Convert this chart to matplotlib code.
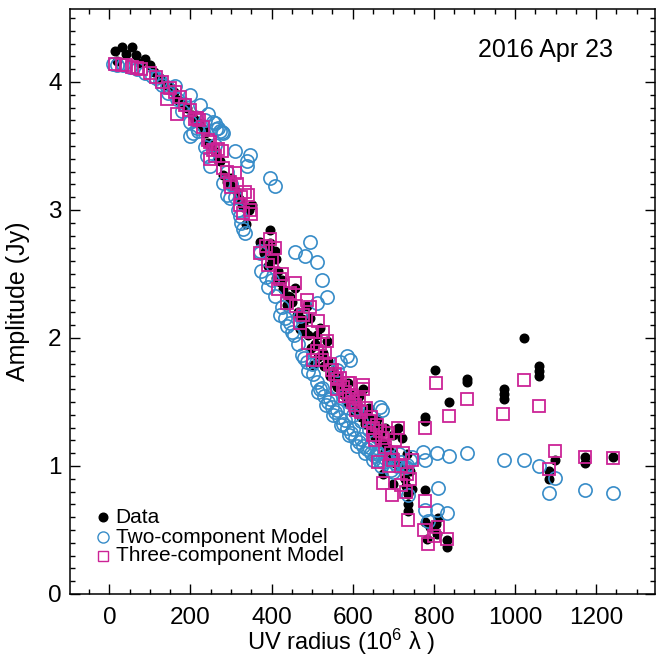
import matplotlib
matplotlib.use("Agg")
import matplotlib.pyplot as plt
from matplotlib.ticker import MultipleLocator

plt.rcParams['font.family'] = ['Liberation Sans', 'DejaVu Sans']
plt.rcParams['mathtext.fontset'] = 'custom'
plt.rcParams['mathtext.rm'] = 'Liberation Sans'
plt.rcParams['mathtext.it'] = 'Liberation Sans:italic'

# Data: UV radius (10^6 lambda) and amplitude (Jy)
data_uv = [14, 32, 55, 42, 65, 88, 100, 20, 75, 110,
           125, 140, 150, 160, 170, 180, 192, 203, 212, 222, 230, 235, 244, 252, 260,
           268, 272, 281, 290, 300, 314, 322, 330, 338, 345, 351, 371, 380, 396, 396,
           408, 410, 392, 412, 420, 428, 437, 446, 457, 462, 470, 478, 486, 494, 503,
           507, 512, 519, 527, 536, 540, 548, 552, 558, 564, 575, 589, 597, 609, 615,
           626, 634, 642, 650, 658, 667, 675, 688, 700, 712, 722, 733, 741, 675, 700,
           729, 737, 737, 778, 778, 811, 807, 782, 832, 832, 790, 805,
           300, 305, 318, 326, 385, 400, 415, 425, 440, 450, 465, 475, 483, 490, 498,
           515, 530, 545, 555, 570, 580, 585, 600, 605, 620, 630, 645, 655, 663, 680,
           692, 705, 715, 725, 730, 735, 745, 560, 590, 610, 640, 660, 680, 700,
           803, 882, 882, 836, 778, 778, 1021, 1060, 1060, 1060, 973, 973, 973,
           1098, 1083, 1083, 1173, 1173, 1241]
data_amp = [4.24, 4.27, 4.27, 4.22, 4.21, 4.18, 4.13, 4.16, 4.15, 4.08,
            4.03, 3.98, 3.96, 3.92, 3.86, 3.84, 3.80, 3.74, 3.70, 3.68, 3.63, 3.60, 3.52, 3.49, 3.45,
            3.39, 3.38, 3.27, 3.22, 3.19, 3.14, 3.08, 3.02, 2.89, 3.00, 3.04, 2.75, 2.66, 2.84, 2.74,
            2.68, 2.62, 2.56, 2.47, 2.44, 2.38, 2.26, 2.32, 2.39, 2.18, 2.07, 2.12, 2.25, 2.16, 1.79,
            1.95, 2.02, 2.08, 1.88, 1.98, 1.82, 1.74, 1.74, 1.64, 1.69, 1.58, 1.65, 1.52, 1.44, 1.55,
            1.60, 1.42, 1.37, 1.30, 1.33, 1.26, 1.18, 1.14, 1.10, 1.30, 1.22, 1.09, 0.96, 0.94, 0.86,
            0.90, 0.65, 0.70, 0.81, 0.56, 0.59, 0.47, 0.43, 0.42, 0.37, 0.52, 0.55,
            3.25, 3.17, 3.10, 3.05, 2.70, 2.62, 2.52, 2.45, 2.33, 2.28, 2.20, 2.15, 2.05, 2.02, 1.92,
            1.85, 1.78, 1.70, 1.68, 1.60, 1.55, 1.50, 1.47, 1.42, 1.38, 1.33, 1.27, 1.22, 1.20, 1.12,
            1.05, 1.02, 1.00, 0.98, 0.84, 0.78, 0.82, 1.62, 1.58, 1.52, 1.45, 1.37, 1.30, 1.24,
            1.75, 1.68, 1.66, 1.50, 1.38, 1.35, 2.00, 1.78, 1.74, 1.70, 1.60, 1.56, 1.52,
            1.05, 0.96, 0.90, 1.07, 1.02, 1.07]

two_uv = [10, 18, 34, 50, 67, 87, 104, 115, 124, 130, 141, 145, 161, 166, 178, 185, 198, 198,
          207, 219, 223, 235, 244, 256, 260, 262, 272, 281,
          309, 346, 339, 339, 396, 408, 494, 457, 482, 512, 524, 536, 512, 586, 569, 593, 560,
          215, 198, 235, 240, 248, 268, 277, 260, 281, 289, 297, 322, 330, 334, 371, 371, 375,
          392, 408, 420, 433, 437, 466, 474, 486, 503, 511, 470, 450, 520, 530, 540, 548, 556,
          565, 575, 585, 595, 605, 615, 625, 635, 645, 655, 665, 675, 700, 720, 733, 740, 745,
          710, 690, 737, 600, 620, 640, 590, 610, 560, 575, 667, 671, 692, 659,
          500, 515, 525, 535, 545, 552, 560, 570, 580, 590, 600, 610, 620, 630, 640, 650,
          660, 670, 680, 695, 705, 715, 725, 730, 480, 490, 455, 445, 425, 400, 385,
          290, 300, 310, 318, 325,
          774, 778, 807, 836, 882, 811, 778, 807, 832, 786,
          973, 1021, 1060, 1098, 1083, 1173, 1241]
two_amp = [4.14, 4.13, 4.13, 4.12, 4.10, 4.07, 4.05, 4.03, 4.01, 3.98, 3.96, 3.91, 3.97, 3.87, 3.77, 3.83, 3.90, 3.69,
           3.60, 3.62, 3.82, 3.70, 3.75, 3.69, 3.51, 3.63, 3.62, 3.60,
           3.46, 3.43, 3.38, 3.34, 3.25, 3.19, 2.75, 2.67, 2.64, 2.59, 2.45, 2.32, 2.27, 1.86, 1.81, 1.83, 1.75,
           3.64, 3.58, 3.49, 3.42, 3.34, 3.64, 3.61, 3.68, 3.21, 3.12, 3.09, 2.95, 2.85, 2.82, 2.66, 2.68, 2.52,
           2.40, 2.33, 2.18, 2.16, 2.09, 1.95, 1.87, 1.81, 1.72, 1.66, 2.17, 2.05, 1.60, 1.55, 1.50, 1.46, 1.42,
           1.38, 1.33, 1.30, 1.26, 1.22, 1.19, 1.16, 1.13, 1.10, 1.08, 1.05, 1.03, 0.95, 1.03, 1.01, 1.05, 1.07,
           1.00, 1.05, 0.77, 1.40, 1.35, 1.28, 1.50, 1.45, 1.62, 1.55, 1.46, 1.44, 1.07, 1.09,
           1.80, 1.58, 1.61, 1.48, 1.52, 1.40, 1.44, 1.32, 1.36, 1.24, 1.29, 1.16, 1.21, 1.10, 1.15, 1.05,
           1.11, 1.00, 1.06, 0.97, 1.02, 1.09, 1.00, 0.99, 1.84, 1.74, 2.02, 2.12, 2.24, 2.45, 2.48,
           3.30, 3.20, 3.10, 3.00, 2.90,
           1.11, 1.05, 1.10, 1.08, 1.10, 0.83, 0.66, 0.66, 0.63, 0.57,
           1.05, 1.05, 1.00, 0.91, 0.79, 0.81, 0.79]

three_uv = [14, 30, 55, 79, 100, 129, 141, 161, 166, 186, 211, 231, 244, 256, 277, 248, 40, 68, 115,
            150, 175, 200, 220,
            215, 248, 268, 281, 310, 297, 334, 342, 322, 346, 330, 350, 396, 408, 371, 392, 420, 457,
            416, 437, 486, 494, 470, 515, 527, 536, 490, 511, 503, 523, 548, 568, 589, 626, 560, 593,
            626, 609, 667, 712, 688, 651, 663, 675, 696, 720, 733, 737, 640, 600, 580, 620, 655, 700,
            720, 740,
            385, 400, 425, 445, 460, 478, 500, 520, 532, 545, 555, 575, 582, 598, 605, 615, 632, 645,
            660, 672, 680, 695, 705, 725, 730, 745, 560, 590, 650, 690, 300, 315, 260, 290, 325,
            806, 882, 836, 778, 778, 776, 786, 811, 832, 800,
            1021, 1060, 971, 1098, 1083, 1173, 1241]
three_amp = [4.14, 4.13, 4.12, 4.10, 4.07, 4.00, 3.87, 3.92, 3.75, 3.82, 3.71, 3.65, 3.55, 3.47, 3.46, 3.40, 4.13, 4.11, 4.04,
             3.95, 3.88, 3.78, 3.70,
             3.72, 3.53, 3.48, 3.33, 3.29, 3.22, 3.14, 3.12, 3.04, 3.00, 2.98, 2.97, 2.77, 2.70, 2.66, 2.57, 2.46, 2.43,
             2.38, 2.27, 2.30, 2.24, 2.12, 2.13, 2.05, 1.98, 1.96, 1.90, 1.83, 1.83, 1.75, 1.69, 1.65, 1.63, 1.68, 1.65,
             1.60, 1.44, 1.27, 1.30, 1.26, 1.24, 1.03, 0.87, 0.77, 0.85, 0.94, 0.58, 1.35, 1.50, 1.55, 1.42, 1.20, 1.05,
             1.00, 0.90,
             2.72, 2.60, 2.50, 2.35, 2.25, 2.18, 2.05, 1.95, 1.88, 1.80, 1.72, 1.62, 1.58, 1.55, 1.48, 1.52, 1.45, 1.38,
             1.32, 1.22, 1.15, 1.10, 1.20, 1.10, 0.80, 1.05, 1.60, 1.55, 1.30, 1.00, 3.18, 3.20, 3.42, 3.30, 3.10,
             1.65, 1.52, 1.39, 1.30, 0.73, 0.50, 0.39, 0.52, 0.43, 0.45,
             1.67, 1.47, 1.41, 1.12, 0.98, 1.07, 1.06]

blue = '#378cc8'
magenta = '#cc2396'

fig = plt.figure(figsize=(6.57, 6.58), dpi=100)
ax = fig.add_axes([70 / 657, 64 / 658, 585 / 657, 585 / 658])

ax.plot(data_uv, data_amp, 'o', color='black', ms=6.2, mec='black', ls='none')
ax.plot(two_uv, two_amp, 'o', mfc='none', mec=blue, ms=9.5, mew=1.2, ls='none')
ax.plot(three_uv, three_amp, 's', mfc='none', mec=magenta, ms=8.5, mew=1.3, ls='none')

ax.set_xlim(-97, 1345)
ax.set_ylim(0, 4.57)
ax.xaxis.set_major_locator(MultipleLocator(200))
ax.xaxis.set_minor_locator(MultipleLocator(50))
ax.yaxis.set_major_locator(MultipleLocator(1))
ax.yaxis.set_minor_locator(MultipleLocator(0.1))
ax.tick_params(which='both', direction='in', top=True, right=True, width=1.0)
ax.tick_params(which='major', length=7.2, labelsize=17.5)
ax.tick_params(which='minor', length=3.6)
ax.tick_params(axis='x', which='major', pad=9)
ax.tick_params(axis='y', which='major', pad=6)
for s in ax.spines.values():
    s.set_linewidth(1.1)

ax.set_ylabel('Amplitude (Jy)', fontsize=18)
ax.yaxis.set_label_coords(-0.068, 0.5)
ax.set_xlabel(r'UV radius (10$^6$ λ )', fontsize=17, va='bottom')
ax.xaxis.set_label_coords(0.463, -0.108)

ax.text(0.929, 0.93, '2016 Apr 23', transform=ax.transAxes, fontsize=18, ha='right', va='center')

# legend drawn by hand to match the tight rows
rows = [(0.1316, 'o', dict(color='black', ms=6.2), 'Data'),
        (0.0974, 'o', dict(mfc='none', mec=blue, ms=8, mew=1.0), 'Two-component Model'),
        (0.0650, 's', dict(mfc='none', mec=magenta, ms=7.5, mew=1.0), 'Three-component Model')]
for y, m, kw, label in rows:
    ax.plot([0.056], [y], m, transform=ax.transAxes, ls='none', clip_on=False, **kw)
    ax.text(0.078, y, label, transform=ax.transAxes, fontsize=15, va='center', ha='left')

fig.savefig('out.png', dpi=100)
